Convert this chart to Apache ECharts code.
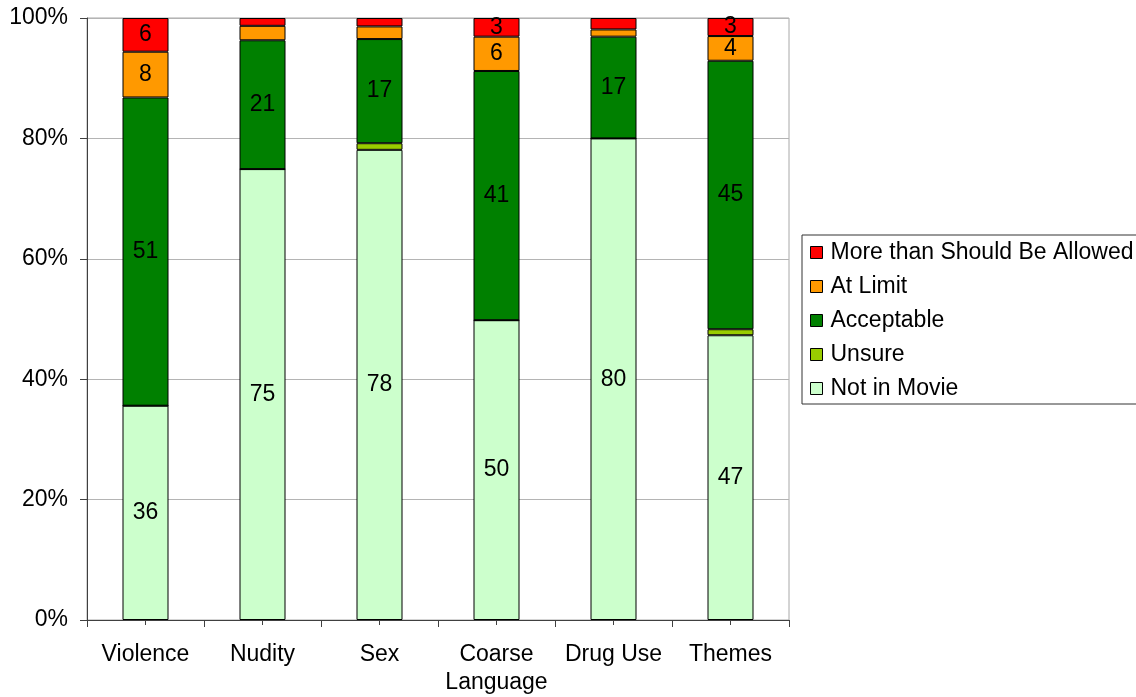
<!DOCTYPE html>
<html>
<head>
<meta charset="utf-8">
<script src="https://cdn.jsdelivr.net/npm/echarts@6/dist/echarts.min.js"></script>
<style>
html,body{margin:0;padding:0;background:#fff;}
#c{width:1136px;height:697px;}
</style>
</head>
<body>
<div id="c"></div>
<script>
var categories = ['Violence', 'Nudity', 'Sex', 'Coarse\nLanguage', 'Drug Use', 'Themes'];
var notInMovie = [35.6, 74.9, 78.1, 49.8, 80.0, 47.3];
var unsure = [0, 0, 1.1, 0, 0, 1.0];
var acceptable = [51.2, 21.4, 17.3, 41.4, 16.9, 44.6];
var atLimit = [7.6, 2.4, 2.1, 5.7, 1.2, 4.1];
var moreThanAllowed = [5.6, 1.3, 1.4, 3.1, 1.9, 3.0];
var yTicks = [0, 20, 40, 60, 80, 100];

var FONT = 'Liberation Sans, Arial, sans-serif';
var FS = 23;

function mk(name, data, color) {
  return {
    name: name,
    type: 'bar',
    stack: 'total',
    xAxisIndex: 0,
    data: data,
    barWidth: 46,
    itemStyle: { color: color, borderColor: '#000', borderWidth: 1 },
    label: {
      show: true,
      position: 'inside',
      color: '#000',
      fontFamily: FONT,
      fontSize: FS,
      formatter: function (p) { return p.value >= 2.5 ? String(Math.round(p.value)) : ''; }
    },
    emphasis: { disabled: true }
  };
}

var chart = echarts.init(document.getElementById('c'), null, { renderer: 'canvas' });
chart.setOption({
  animation: false,
  backgroundColor: '#fff',
  grid: {
    left: 87, right: 1136 - 789, top: 18, bottom: 697 - 620,
    containLabel: false,
    outerBoundsMode: 'none',
    show: true, borderColor: '#a8a8a8', borderWidth: 1, backgroundColor: '#fff'
  },
  legend: {
    orient: 'vertical',
    left: 802,
    top: 235,
    padding: [6, 4, 4, 8],
    itemGap: 11,
    itemWidth: 12,
    itemHeight: 12,
    borderColor: '#333',
    borderWidth: 1,
    backgroundColor: '#fff',
    icon: 'rect',
    itemStyle: { borderColor: '#000', borderWidth: 1 },
    textStyle: { fontFamily: FONT, fontSize: FS, color: '#000', padding: [0, 0, 0, 3] },
    data: ['More than Should Be Allowed', 'At Limit', 'Acceptable', 'Unsure', 'Not in Movie']
  },
  xAxis: [{
    type: 'category',
    data: categories,
    boundaryGap: true,
    axisLine: { lineStyle: { color: '#404040', width: 1 } },
    axisTick: { show: true, length: 7, interval: 0, lineStyle: { color: '#404040' } },
    axisLabel: { interval: 0, margin: 21, color: '#000', fontFamily: FONT, fontSize: FS, lineHeight: 28 },
    splitLine: { show: false }
  }, {
    type: 'category',
    data: categories,
    position: 'bottom',
    offset: 0,
    boundaryGap: true,
    axisLine: { show: true, lineStyle: { color: '#404040', width: 1 } },
    axisTick: { show: true, alignWithLabel: true, length: 5, interval: 0, lineStyle: { color: '#404040' } },
    axisLabel: { show: false },
    splitLine: { show: false }
  }],
  yAxis: {
    type: 'value',
    min: 0,
    max: 100,
    interval: 20,
    axisLine: { show: true, lineStyle: { color: '#404040', width: 1 } },
    axisTick: { show: true, length: 7, lineStyle: { color: '#404040' } },
    axisLabel: {
      margin: 19, color: '#000', fontFamily: FONT, fontSize: FS,
      formatter: function (v) { return yTicks.indexOf(v) >= 0 ? v + '%' : ''; }
    },
    splitLine: { show: true, lineStyle: { color: '#b4b4b4', width: 1 } }
  },
  series: [
    mk('Not in Movie', notInMovie, '#CCFFCC'),
    mk('Unsure', unsure, '#99CC00'),
    mk('Acceptable', acceptable, '#008000'),
    mk('At Limit', atLimit, '#FF9900'),
    mk('More than Should Be Allowed', moreThanAllowed, '#FF0000')
  ]
});
</script>
</body>
</html>
